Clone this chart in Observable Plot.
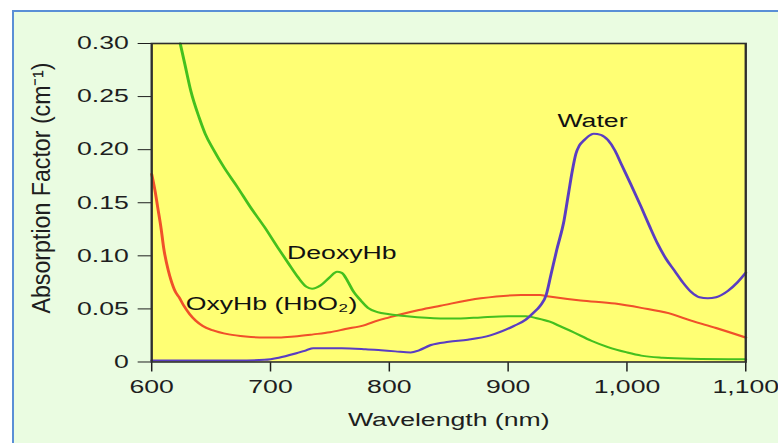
<!DOCTYPE html>
<html>
<head>
<meta charset="utf-8">
<script src="https://cdn.jsdelivr.net/npm/d3@7"></script>
<script src="https://cdn.jsdelivr.net/npm/@observablehq/plot@0.6"></script>
<style>
  html, body { margin: 0; padding: 0; background: #ffffff; width: 778px; height: 443px; overflow: hidden; position: relative; }
  #panel { position: absolute; left: 12px; top: 10px; width: 800px; height: 470px; background: #eafce1; border-left: 2px solid #5a8fd6; border-top: 2px solid #5a8fd6; }
  #chart { position: absolute; left: 0; top: 0; }
</style>
</head>
<body>
<div id="panel"></div>
<div id="chart"></div>
<script>
// ---- data (wavelength nm, absorption factor cm^-1) ----
const deoxyNm  = [624, 628, 633, 640, 645, 652, 661, 672, 683, 695, 706, 715, 723, 730, 735, 742, 750, 756, 760, 765, 770, 776, 782, 790, 800, 815, 843, 860, 877, 900, 915, 925, 935, 945, 955, 970, 984, 1000, 1012, 1030, 1054, 1100];
const deoxyVal = [0.300, 0.280, 0.255, 0.230, 0.215, 0.200, 0.183, 0.165, 0.146, 0.127, 0.108, 0.093, 0.080, 0.071, 0.069, 0.072, 0.080, 0.085, 0.084, 0.076, 0.066, 0.058, 0.051, 0.047, 0.045, 0.043, 0.041, 0.041, 0.042, 0.043, 0.043, 0.041, 0.038, 0.033, 0.028, 0.020, 0.014, 0.009, 0.006, 0.004, 0.003, 0.0025];

const oxyNm  = [600, 603, 605, 608, 610, 614, 616, 620, 623, 627, 632, 637, 643, 651, 665, 679, 695, 707, 720, 736, 750, 763, 780, 790, 800, 810, 825, 843, 877, 911, 927, 933, 961, 990, 1012, 1035, 1054, 1075, 1100];
const oxyVal = [0.177, 0.160, 0.146, 0.125, 0.108, 0.086, 0.078, 0.066, 0.061, 0.053, 0.045, 0.039, 0.034, 0.030, 0.026, 0.024, 0.023, 0.023, 0.024, 0.026, 0.028, 0.031, 0.035, 0.039, 0.042, 0.045, 0.049, 0.053, 0.060, 0.063, 0.063, 0.062, 0.058, 0.055, 0.051, 0.046, 0.039, 0.032, 0.023];

const waterNm  = [600, 640, 680, 695, 707, 721, 730, 736, 760, 780, 793, 805, 818, 825, 835, 850, 866, 885, 895, 905, 915, 921, 927, 932, 936, 941, 947, 951, 954, 957, 960, 964, 968, 972, 978, 984, 990, 995, 1003, 1012, 1019, 1026, 1033, 1040, 1047, 1054, 1061, 1068, 1075, 1085, 1093, 1100];
const waterVal = [0.0015, 0.0015, 0.0015, 0.002, 0.004, 0.008, 0.011, 0.013, 0.013, 0.012, 0.011, 0.010, 0.009, 0.011, 0.016, 0.019, 0.021, 0.025, 0.029, 0.034, 0.040, 0.046, 0.053, 0.063, 0.082, 0.106, 0.133, 0.160, 0.180, 0.196, 0.204, 0.209, 0.213, 0.215, 0.214, 0.209, 0.199, 0.187, 0.168, 0.146, 0.128, 0.111, 0.097, 0.086, 0.075, 0.066, 0.061, 0.060, 0.061, 0.067, 0.075, 0.084];

const xTicks = [600, 700, 800, 900, 1000, 1100];
const yTicks = [0, 0.05, 0.10, 0.15, 0.20, 0.25, 0.30];

// series labels: [text, wavelength, value]
const centredLabels = ["DeoxyHb", "Water"];
const centredNm  = [760, 971];
const centredVal = [0.1027, 0.227];
const startLabels = ["OxyHb (HbO\u2082)"];
const startNm  = [628.6];
const startVal = [0.0548];

const xTitle = "Wavelength (nm)";
const yTitle = "Absorption Factor (cm\u207B\u00B9)";

// ---- build tables ----
const deoxy = deoxyNm.map((x, i) => ({x, y: deoxyVal[i]}));
const oxy = oxyNm.map((x, i) => ({x, y: oxyVal[i]}));
const water = waterNm.map((x, i) => ({x, y: waterVal[i]}));
const cLab = centredLabels.map((t, i) => ({t, x: centredNm[i], y: centredVal[i]}));
const sLab = startLabels.map((t, i) => ({t, x: startNm[i], y: startVal[i]}));

const S = 1.48; // horizontal stretch of the original picture
const W = 778 / S;

const chart = Plot.plot({
  width: W,
  height: 443,
  marginLeft: 102,
  marginRight: W - 503.4,
  marginTop: 43,
  marginBottom: 81.5,
  style: {
    background: "transparent",
    fontFamily: "'Liberation Sans', Arial, sans-serif",
    fontSize: "18px",
    color: "#1e1e1e",
    overflow: "visible",
    transform: `scaleX(${S})`,
    transformOrigin: "0 0",
    maxWidth: "none"
  },
  x: {domain: [600, 1100], ticks: xTicks, tickFormat: d3.format(","), tickSize: 10, tickPadding: 8.5, label: null},
  y: {domain: [0, 0.30], ticks: yTicks, tickFormat: d => d === 0 ? "0" : d.toFixed(2), tickSize: 9, tickPadding: 6.5, label: null},
  marks: [
    Plot.frame({fill: "#ffff74", stroke: "none"}),
    Plot.line(oxy, {x: "x", y: "y", stroke: "#f0502a", strokeWidth: 2, curve: "monotone-x"}),
    Plot.line(deoxy, {x: "x", y: "y", stroke: "#44c01e", strokeWidth: 2, curve: "monotone-x"}),
    Plot.line(water, {x: "x", y: "y", stroke: "#5a3dc2", strokeWidth: 2, curve: "monotone-x"}),
    Plot.frame({stroke: "#2e2e2e", strokeWidth: 1.6}),
    Plot.text(cLab, {x: "x", y: "y", text: "t", textAnchor: "middle", fontSize: 18, fill: "#111", lineAnchor: "middle"}),
    Plot.text(sLab, {x: "x", y: "y", text: "t", textAnchor: "start", fontSize: 18, fill: "#111", lineAnchor: "middle"}),
    Plot.text([xTitle], {frameAnchor: "bottom", lineAnchor: "top", dy: 51.5, fontSize: 18, fill: "#1e1e1e"}),
    Plot.text([yTitle], {frameAnchor: "bottom-left", rotate: -90, textAnchor: "start", lineAnchor: "middle", dx: -74.3, dy: -48.5, fontSize: 17, fill: "#1e1e1e"})
  ]
});

document.getElementById("chart").appendChild(chart);

// Match the stretched look of the vertical title along its length
chart.querySelectorAll("text").forEach(t => {
  if (t.textContent === yTitle) {
    t.setAttribute("textLength", 251);
    t.setAttribute("lengthAdjust", "spacingAndGlyphs");
  }
});
</script>
</body>
</html>
